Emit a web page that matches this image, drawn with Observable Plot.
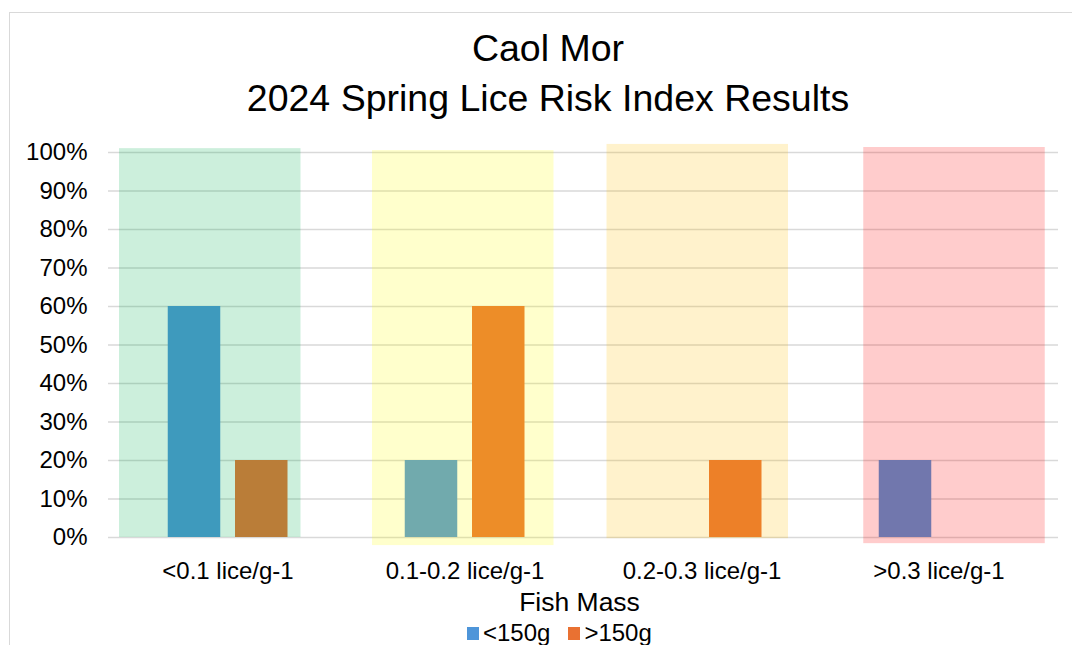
<!DOCTYPE html>
<html>
<head>
<meta charset="utf-8">
<script src="https://cdn.jsdelivr.net/npm/d3@7"></script>
<script src="https://cdn.jsdelivr.net/npm/@observablehq/plot@0.6"></script>
<style>
  html, body { margin: 0; padding: 0; width: 1072px; height: 645px; overflow: hidden; background: #fff; }
  body { font-family: "Liberation Sans", Arial, sans-serif; color: #000; position: relative; }
  #box { position: absolute; left: 9px; top: 12px; width: 1078px; height: 700px; border: 1px solid #D9D9D9; box-sizing: border-box; }
  #title { position: absolute; left: 0; width: 1096px; top: 23px; text-align: center; font-size: 37.5px; line-height: 50px; }
  #chart { position: absolute; left: 0; top: 130px; }
  #xtitle { position: absolute; left: 0; width: 1159px; top: 589px; text-align: center; font-size: 26.5px; line-height: 26.5px; }
  #legend { position: absolute; left: 467px; top: 621px; display: flex; align-items: center; font-size: 24px; line-height: 24px; }
  .sw { width: 12px; height: 13px; margin-right: 4px; }
  .item { display: flex; align-items: center; margin-right: 18px; }
</style>
</head>
<body>
<div id="box"></div>
<div id="title">Caol Mor<br>2024 Spring Lice Risk Index Results</div>
<div id="chart"></div>
<div id="xtitle">Fish Mass</div>
<div id="legend"></div>
<script>
// ---- data ----
const categories = ["<0.1 lice/g-1", "0.1-0.2 lice/g-1", "0.2-0.3 lice/g-1", ">0.3 lice/g-1"];
const seriesNames = ["<150g", ">150g"];
const under150 = [0.6, 0.2, 0, 0.2];
const over150 = [0.2, 0.6, 0.2, 0];
const yTicks = [0, 0.1, 0.2, 0.3, 0.4, 0.5, 0.6, 0.7, 0.8, 0.9, 1.0];
// risk zone shading (value units)
const zoneLow = [0, -0.021, -0.003, -0.016];
const zoneHigh = [1.01, 1.005, 1.021, 1.013];

// ---- styles ----
const seriesColors = ["#4E95D9", "#E97132"];
const zoneColors = ["#00B050", "#FFFF00", "#FFC000", "#FF0000"];
const zoneShift = [-17.75, -1.75, -4.25, 15.5];

const rowsA = categories.map((c, i) => ({category: c, value: under150[i]})).filter(d => d.value > 0);
const rowsB = categories.map((c, i) => ({category: c, value: over150[i]})).filter(d => d.value > 0);
const zones = categories.map((c, i) => ({category: c, low: zoneLow[i], high: zoneHigh[i]}));

const chart = Plot.plot({
  width: 1072,
  height: 460,
  marginTop: 22,
  marginBottom: 53,
  marginLeft: 108,
  marginRight: 14,
  style: {fontFamily: "'Liberation Sans', Arial, sans-serif", fontSize: "24px", color: "#000", background: "transparent", overflow: "visible"},
  x: {domain: categories, padding: 0, label: null},
  y: {domain: [0, 1], label: null},
  marks: [
    Plot.gridY({ticks: yTicks, stroke: "#D9D9D9", strokeOpacity: 1, strokeWidth: 1.3}),
    Plot.barY(rowsA, {x: "category", y: "value", fill: seriesColors[0], insetLeft: 92.25, insetRight: 92.25, dx: -33.5}),
    Plot.barY(rowsB, {x: "category", y: "value", fill: seriesColors[1], insetLeft: 92.25, insetRight: 92.25, dx: 33.75}),
    ...zones.map((z, i) => Plot.barY([z], {x: "category", y1: "low", y2: "high", fill: zoneColors[i], fillOpacity: 0.2, insetLeft: 27.75, insetRight: 27.75, dx: zoneShift[i]})),
    Plot.axisY({ticks: yTicks, tickFormat: d3.format(".0%"), tickSize: 0, tickPadding: 21, label: null, fontSize: 24}),
    Plot.axisX({tickSize: 0, tickPadding: 24, label: null, fontSize: 24})
  ]
});
document.getElementById("chart").appendChild(chart);

const legend = document.getElementById("legend");
seriesNames.forEach((name, i) => {
  const item = document.createElement("div");
  item.className = "item";
  const sw = document.createElement("div");
  sw.className = "sw";
  sw.style.background = seriesColors[i];
  const t = document.createElement("span");
  t.textContent = name;
  item.appendChild(sw);
  item.appendChild(t);
  legend.appendChild(item);
});
</script>
</body>
</html>
